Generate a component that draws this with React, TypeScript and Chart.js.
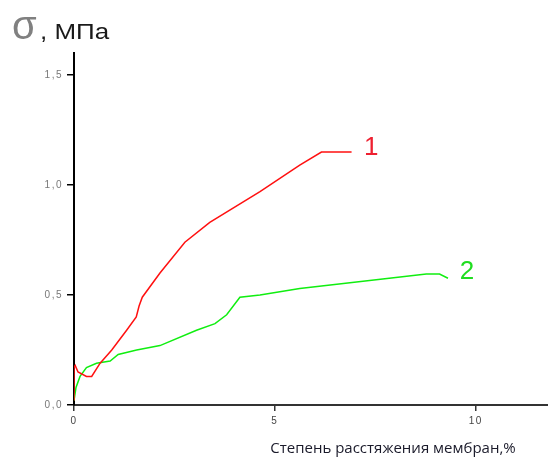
import React, { useEffect, useRef } from "react";
import { Chart, registerables } from "chart.js";

Chart.register(...registerables);

// Curve 1 (red)
const curve1X = [0, 0, 0.03, 0.1, 0.31, 0.44, 0.65, 0.94, 1.31, 1.55, 1.62, 1.7, 2.14, 2.76, 3.38, 4.63, 5.62, 6.16, 6.91];
const curve1Y = [0.02, 0.17, 0.18, 0.15, 0.13, 0.13, 0.19, 0.25, 0.34, 0.4, 0.45, 0.49, 0.6, 0.74, 0.83, 0.97, 1.09, 1.15, 1.15];

// Curve 2 (green)
const curve2X = [0, 0.05, 0.15, 0.31, 0.56, 0.9, 1.1, 1.56, 2.14, 3.05, 3.51, 3.8, 4.13, 4.63, 5.62, 8.77, 9.1, 9.31];
const curve2Y = [0.02, 0.08, 0.13, 0.17, 0.19, 0.2, 0.23, 0.25, 0.27, 0.34, 0.37, 0.41, 0.49, 0.5, 0.53, 0.595, 0.595, 0.576];

// Curve labels placed in data coordinates
const curveLabels = ["1", "2"];
const curveLabelX = [7.4, 9.78];
const curveLabelY = [1.17, 0.605];

const xTickValues = [0, 5, 10];
const xTickLabels = ["0", "5", "10"];
const yTickValues = [0, 0.5, 1.0, 1.5];
const yTickLabels = ["0,0", "0,5", "1,0", "1,5"];

const yTitleSymbol = "σ";
const yTitleUnit = ", МПа";
const xTitle = "Степень расстяжения мембран,%";

const RED = "#ff1010";
const GREEN = "#10ee10";

const textPlugin = {
  id: "texts",
  beforeDraw(chart: any) {
    chart.ctx.letterSpacing = "1.5px";
  },
  afterDraw(chart: any) {
    const ctx = chart.ctx;
    ctx.letterSpacing = "0px";
    const xs = chart.scales.x;
    const ys = chart.scales.y;
    ctx.save();
    // title
    ctx.textBaseline = "alphabetic";
    ctx.textAlign = "left";
    ctx.fillStyle = "#808080";
    ctx.font = "40px 'Liberation Sans', Arial, sans-serif";
    ctx.fillText(yTitleSymbol, 12, 39);
    ctx.fillStyle = "#1a1a1a";
    ctx.font = "22px 'Liberation Sans', Arial, sans-serif";
    ctx.save();
    ctx.translate(40, 39);
    ctx.scale(1.18, 1);
    ctx.fillText(yTitleUnit, 0, 0);
    ctx.restore();
    // curve labels
    ctx.textAlign = "center";
    ctx.textBaseline = "middle";
    ctx.font = "26px 'Liberation Sans', Arial, sans-serif";
    const cols = ["#ee2030", "#20dd20"];
    curveLabels.forEach((t, i) => {
      ctx.fillStyle = cols[i];
      ctx.fillText(t, xs.getPixelForValue(curveLabelX[i]), ys.getPixelForValue(curveLabelY[i]));
    });
    // x title
    ctx.fillStyle = "#1a1a2a";
    ctx.font = "15px 'Open Sans', sans-serif";
    ctx.textAlign = "center";
    ctx.fillText(xTitle, 393, 449);
    ctx.restore();
  },
};

export default function App() {
  const ref = useRef<HTMLCanvasElement>(null);
  useEffect(() => {
    if (!ref.current) return;
    const mk = (xs: number[], ys: number[]) => xs.map((x, i) => ({ x, y: ys[i] }));
    const chart = new Chart(ref.current, {
      type: "scatter",
      data: {
        datasets: [
          { data: mk(curve1X, curve1Y), showLine: true, borderColor: RED, borderWidth: 1.5, pointRadius: 0, tension: 0 },
          { data: mk(curve2X, curve2Y), showLine: true, borderColor: GREEN, borderWidth: 1.5, pointRadius: 0, tension: 0 },
        ],
      },
      options: {
        responsive: false,
        animation: false,
        layout: { padding: { left: 0, right: 0, top: 53, bottom: 0 } },
        plugins: { legend: { display: false }, tooltip: { enabled: false }, title: { display: false } },
        scales: {
          x: {
            type: "linear",
            min: 0,
            max: 11.8,
            afterFit: (s: any) => { s.height = 54; },
            afterBuildTicks: (s: any) => { s.ticks = xTickValues.map((v) => ({ value: v })); },
            ticks: {
              color: "#444",
              font: { size: 10, family: "'Liberation Sans', Arial, sans-serif" },
              padding: 4,
              maxRotation: 0,
              callback: (v: any) => { const i = xTickValues.indexOf(Number(v)); return i >= 0 ? xTickLabels[i] : ""; },
            },
            grid: { drawOnChartArea: false, drawTicks: true, tickLength: 6, color: "#333", lineWidth: 1.5 },
            border: { color: "#333", width: 2 },
          },
          y: {
            type: "linear",
            min: 0,
            max: 1.6,
            afterFit: (s: any) => { s.width = 74; },
            afterBuildTicks: (s: any) => { s.ticks = yTickValues.map((v) => ({ value: v })); },
            ticks: {
              color: "#777",
              font: { size: 10, family: "'Liberation Sans', Arial, sans-serif" },
              padding: 4,
              callback: (v: any) => { const i = yTickValues.indexOf(Number(v)); return i >= 0 ? yTickLabels[i] : ""; },
            },
            grid: { drawOnChartArea: false, drawTicks: true, tickLength: 7, color: "#000", lineWidth: 1.5 },
            border: { color: "#000", width: 2 },
          },
        },
      },
      plugins: [textPlugin],
    } as any);
    return () => chart.destroy();
  }, []);
  return (
    <div style={{ position: "fixed", left: 0, top: 0, width: 548, height: 459, background: "#fff" }}>
      <canvas ref={ref} width={548} height={459} />
    </div>
  );
}
